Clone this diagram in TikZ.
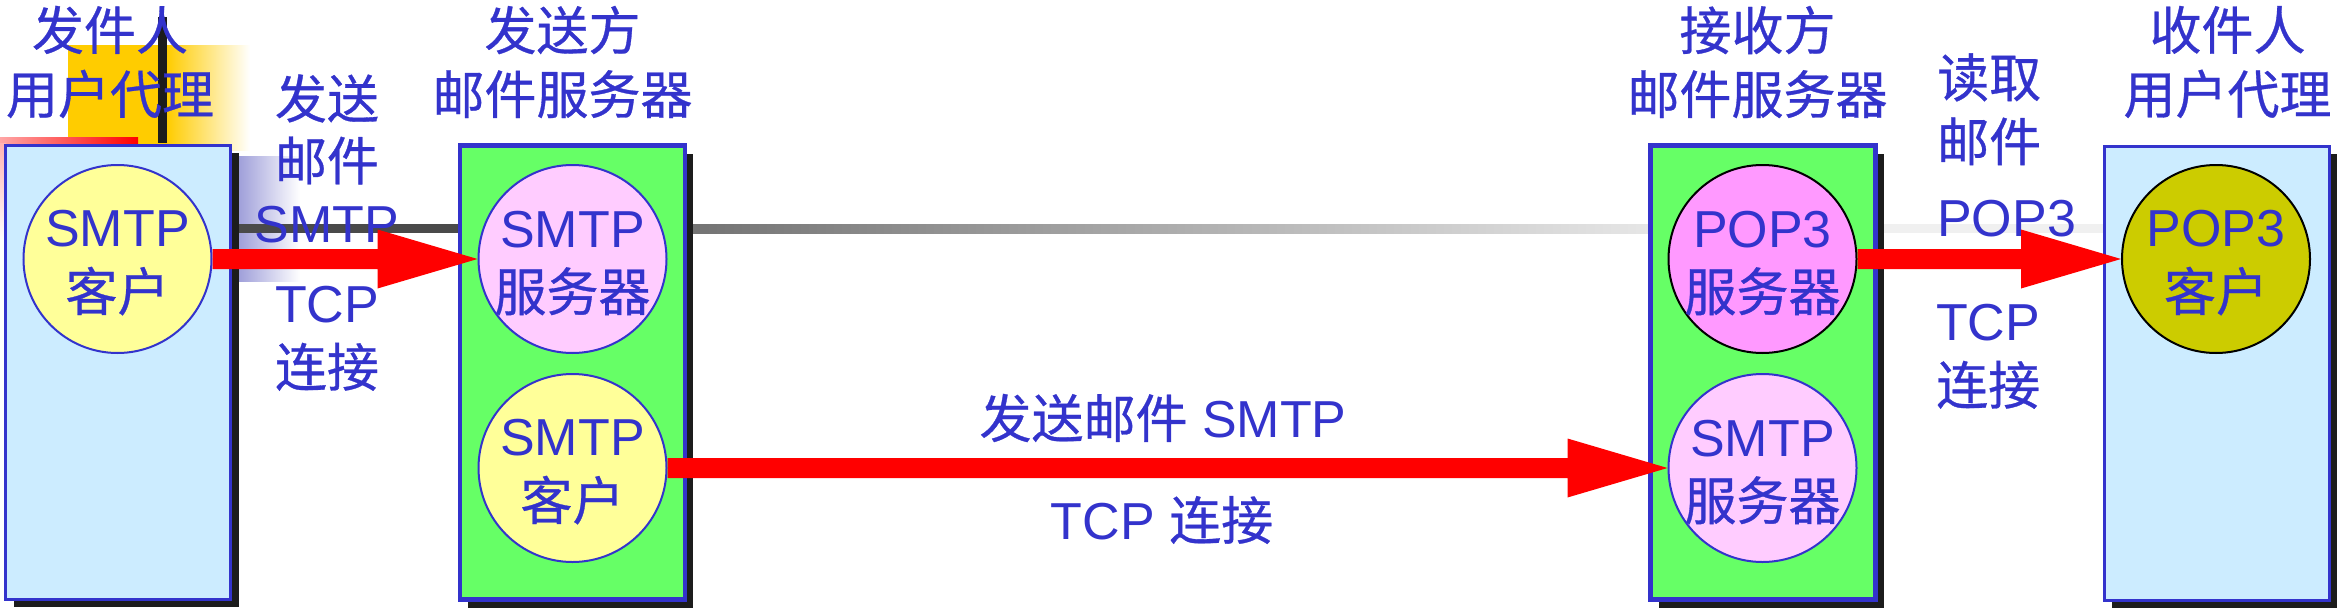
\documentclass[tikz,border=0pt]{standalone}
\usepackage{fontspec}
\setmainfont{Liberation Sans}
\newfontfamily\cjk{Noto Sans CJK SC}[FakeBold=0.6]
\usetikzlibrary{calc,shadows}
\pgfdeclarelayer{bg}
\pgfsetlayers{bg,main}
\definecolor{tblue}{RGB}{51,51,204}
\definecolor{lblue}{RGB}{204,236,255}
\definecolor{mgreen}{RGB}{102,255,102}
\definecolor{myellow}{RGB}{255,255,153}
\definecolor{mpink}{RGB}{255,204,255}
\definecolor{mmagenta}{RGB}{255,153,255}
\definecolor{molive}{RGB}{204,204,0}
\definecolor{shadowc}{RGB}{28,28,28}
\definecolor{orangec}{RGB}{255,204,0}
\definecolor{bluegr}{RGB}{160,160,218}
\definecolor{grayA}{RGB}{74,74,74}
\definecolor{grayB}{RGB}{115,115,115}
\definecolor{grayC}{RGB}{230,230,230}
\definecolor{grayD}{RGB}{240,240,240}
\newcommand\zh[1]{{\cjk #1}}
\newcommand\redarrow[2]{%
  \fill[red] ($(#1.east)+(0,-10)$) -- ($(#2.west)+(-100,-10)$) -- ($(#2.west)+(-100,-29.5)$)
    -- (#2.west) -- ($(#2.west)+(-100,29.5)$) -- ($(#2.west)+(-100,10)$) -- ($(#1.east)+(0,10)$) -- cycle;}
\begin{document}
\begin{tikzpicture}[x=1pt,y=-1pt,
  lbl/.style={text=tblue, font=\fontsize{52}{64}\selectfont, inner sep=0pt, align=center},
  boxshadow/.style={drop shadow={shadow xshift=8pt, shadow yshift=-8pt, opacity=1, fill=shadowc}},
  uabox/.style={draw=tblue, line width=3pt, fill=lblue, minimum width=225pt, minimum height=454pt, inner sep=0pt, boxshadow},
  msbox/.style={draw=tblue, line width=4.5pt, fill=mgreen, minimum width=225pt, minimum height=454pt, inner sep=0pt, boxshadow},
  circ/.style={circle, draw=tblue, line width=2pt, minimum size=188pt, inner sep=0pt}
]
\useasboundingbox (0,0) rectangle (2342,613);

% background decorations
\begin{pgfonlayer}{bg}
  \fill[orangec] (68,45) rectangle (167,150);
  \shade[left color=orangec, right color=white] (167,45) rectangle (250,150);
  \fill[shadowc] (158,17) rectangle (167,143);
  \shade[left color=red!35, right color=red] (0,137) rectangle (138,143);
  \shade[top color=red!30, bottom color=white] (0,143) rectangle (6,240);
  \shade[left color=bluegr, right color=white] (239,156) rectangle (300,281);
\end{pgfonlayer}

% boxes
\node[uabox] (ua1) at (118,372) {};
\node[msbox] (ms1) at (572.5,372.5) {};
\node[msbox] (ms2) at (1763,372.5) {};
\node[uabox] (ua2) at (2216.5,373) {};

% circles
\node[circ, fill=myellow] (c1) at (117.5,259) {};
\node[circ, fill=mpink] (s1) at (572.5,259) {};
\node[circ, fill=myellow] (c2) at (572.5,468) {};
\node[circ, fill=mmagenta, draw=black] (p1) at (1762.5,259) {};
\node[circ, fill=mpink] (s2) at (1762.5,468) {};
\node[circ, fill=molive, draw=black] (p2) at (2216,259) {};

% circle texts
\node[lbl] (c1t) at ([yshift=-4pt]c1.center) {SMTP\\\zh{客户}};
\node[lbl] (s1t) at ([yshift=-4pt]s1.center) {SMTP\\\zh{服务器}};
\node[lbl] (c2t) at ([yshift=-4pt]c2.center) {SMTP\\\zh{客户}};
\node[lbl] (p1t) at ([yshift=-4pt]p1.center) {POP3\\\zh{服务器}};
\node[lbl] (s2t) at ([yshift=-4pt]s2.center) {SMTP\\\zh{服务器}};
\node[lbl] (p2t) at ([yshift=-4pt]p2.center) {POP3\\\zh{客户}};

% gray line
\coordinate (gl) at (0,228.5);
\begin{pgfonlayer}{bg}
  \draw[line width=9pt, grayA] (ua1.east |- gl) -- (ms1.west |- gl);
  \shade[left color=grayB, right color=grayC] ($(ms1.east |- gl)+(0,-4.5)$) rectangle ($(ms2.west |- gl)+(0,4.5)$);
  \draw[line width=9pt, grayD] (ms2.east |- gl) -- (ua2.west |- gl);
\end{pgfonlayer}

% titles
\node[lbl] (t1) at (110,62) {\zh{发件人}\\\zh{用户代理}};
\node[lbl] (t2) at (562.5,62) {\zh{发送方}\\\zh{邮件服务器}};
\node[lbl] (t3) at (1757.5,62) {\zh{接收方}\\\zh{邮件服务器}};
\node[lbl] (t4) at (2227.5,62) {\zh{收件人}\\\zh{用户代理}};

% connector labels
\node[lbl, font=\fontsize{52}{62}\selectfont] (l1) at (327,158.5) {\zh{发送}\\\zh{邮件}\\SMTP};
\node[lbl] (l2) at (327,338.5) {TCP\\\zh{连接}};
\node[lbl] (m1) at (1163,418) {\zh{发送邮件} SMTP};
\node[lbl] (m2) at (1162,520) {TCP \zh{连接}};
\node[lbl, align=left, anchor=west] (r1) at (1937,145) {\zh{读取}\\\zh{邮件}\\[11pt]POP3};
\node[lbl, align=left, anchor=west] (r2) at (1936,356.5) {TCP\\\zh{连接}};

% red arrows
\redarrow{c1}{s1}
\redarrow{c2}{s2}
\redarrow{p1}{p2}
\end{tikzpicture}
\end{document}
